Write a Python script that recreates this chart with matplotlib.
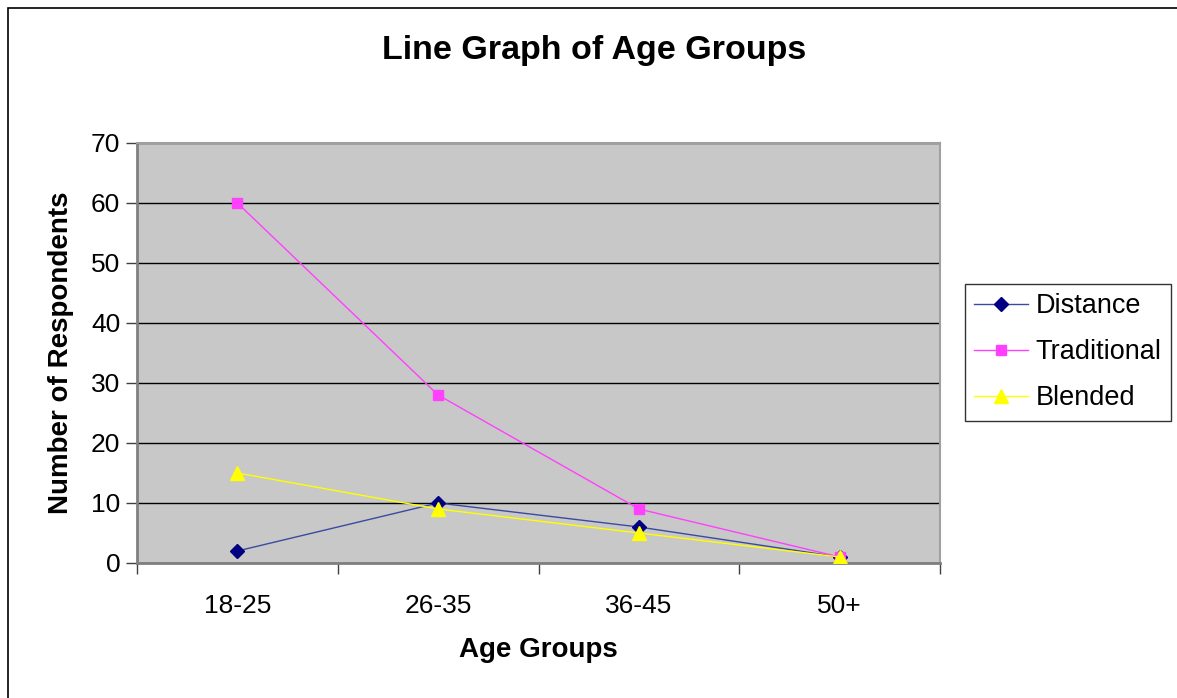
import matplotlib
matplotlib.use("Agg")
from matplotlib import pyplot as plt
from matplotlib.patches import Rectangle

age_groups = ['18-25', '26-35', '36-45', '50+']
distance = [2, 10, 6, 1]
traditional = [60, 28, 9, 1]
blended = [15, 9, 5, 1]

plt.rcParams['font.family'] = ['Liberation Sans', 'DejaVu Sans']

W, H = 1177, 698
fig = plt.figure(figsize=(W / 100, H / 100), dpi=100)

# outer chart border (only left / top show in the picture)
fig.patches.append(Rectangle((8 / W, -0.2), 1.5, 1.2 - 8 / H, transform=fig.transFigure,
                             fill=False, edgecolor='black', linewidth=1.2))

ax = fig.add_axes([137 / W, 1 - 563 / H, (940 - 137) / W, (563 - 143) / H])
ax.set_facecolor('#c8c8c8')

xs = list(range(len(age_groups)))
ax.plot(xs, distance, color='#3a4aa0', linewidth=1, marker='D', markersize=7.5,
        markerfacecolor='#000080', markeredgecolor='#000080', label='Distance', zorder=4)
ax.plot(xs, traditional, color='#ff40ff', linewidth=1, marker='s', markersize=7.5,
        markerfacecolor='#ff40ff', markeredgecolor='#ff40ff', label='Traditional', zorder=4)
ax.plot(xs, blended, color='#ffff00', linewidth=1, marker='^', markersize=9.5,
        markerfacecolor='#ffff00', markeredgecolor='#ffff00', label='Blended', zorder=5)

ax.set_xlim(-0.5, len(age_groups) - 0.5)
ax.set_ylim(0, 70)
ax.set_yticks(range(0, 71, 10))
ax.yaxis.grid(True, color='black', linewidth=1)
ax.set_axisbelow(True)

ax.set_xticks([i - 0.5 for i in range(len(age_groups) + 1)])
ax.set_xticklabels([])
ax.set_xticks(xs, minor=True)
ax.set_xticklabels(age_groups, minor=True)
ax.tick_params(axis='x', which='minor', length=0, pad=22, labelsize=19)
ax.tick_params(axis='x', which='major', length=8, color='#404040', width=1)
ax.tick_params(axis='y', length=8, color='#404040', width=1, labelsize=19, pad=4)

for side in ['left', 'bottom']:
    ax.spines[side].set_color('#808080')
    ax.spines[side].set_linewidth(2)
for side in ['top', 'right']:
    ax.spines[side].set_color('#a0a0a0')
    ax.spines[side].set_linewidth(1.5)

ax.set_xlabel('Age Groups', fontsize=20, fontweight='bold', labelpad=14)
ax.set_ylabel('Number of Respondents', fontsize=20, fontweight='bold', labelpad=12)
fig.text(594 / W, 1 - 50 / H, 'Line Graph of Age Groups', ha='center', va='center',
         fontsize=24.5, fontweight='bold')

leg = fig.legend(loc='upper left', bbox_to_anchor=(965 / W, 1 - 284 / H),
                 bbox_transform=fig.transFigure, fontsize=19.5, frameon=True,
                 fancybox=False, edgecolor='black', handlelength=2.0,
                 borderpad=0.34, labelspacing=0.74, handletextpad=0.26, borderaxespad=0)
leg.get_frame().set_linewidth(1)

fig.savefig('out.png', dpi=100)
